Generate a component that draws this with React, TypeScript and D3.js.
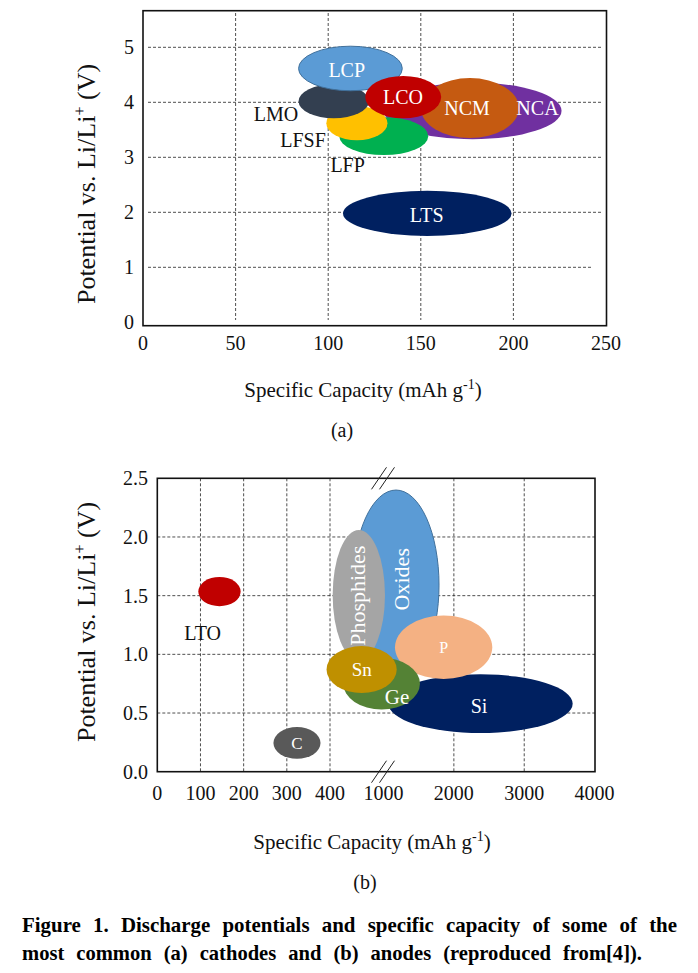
import React from "react";
import * as d3 from "d3";

// ---------- Data: (a) cathodes ----------
const cathodeNames = ["NCA", "NCM", "LFP", "LFSF", "LMO", "LCP", "LCO", "LTS"];
const cathodeCapMin = [130, 150, 106, 99, 84, 84, 120, 108];
const cathodeCapMax = [226, 203, 154, 132, 122, 140, 161, 199];
const cathodeVMin = [3.33, 3.35, 3.04, 3.31, 3.71, 4.21, 3.71, 1.57];
const cathodeVMax = [4.36, 4.44, 3.73, 3.93, 4.33, 5.02, 4.48, 2.39];
const cathodeColors = ["#7030A0", "#C55A11", "#00B050", "#FFC000", "#333F50", "#5B9BD5", "#C00000", "#002060"];
const cathodeLabelX = [213, 175, 110.5, 86.4, 71.8, 110, 140.4, 153.2];
const cathodeLabelV = [3.9, 3.9, 2.86, 3.31, 3.79, 4.59, 4.1, 1.95];
const cathodeLabelInside = [true, true, false, false, false, true, true, true];
const cathodeXTicks = [0, 50, 100, 150, 200, 250];
const cathodeXGrid = [50, 100, 150, 200];
const cathodeYTicks = [0, 1, 2, 3, 4, 5];
const cathodeYGrid = [1, 2, 3, 4, 5];

// ---------- Data: (b) anodes ----------
const anodeNames = ["Oxides", "Phosphides", "Si", "P", "Ge", "Sn", "LTO", "C"];
const anodeCapMin = [658, 430, 1068, 1163, 549, 392, 95, 269];
const anodeCapMax = [1789, 1021, 3688, 2546, 1518, 1188, 193, 378];
const anodeVMin = [0.78, 0.95, 0.33, 0.79, 0.53, 0.67, 1.41, 0.11];
const anodeVMax = [2.4, 2.06, 0.83, 1.33, 0.97, 1.07, 1.66, 0.38];
const anodeColors = ["#5B9BD5", "#A5A5A5", "#002060", "#F4B183", "#548235", "#BF9000", "#C00000", "#595959"];
const anodeLabelX = [1259, 703, 2357, 1855, 1192, 756, 105, 323.5];
const anodeLabelV = [1.64, 1.5, 0.56, 1.06, 0.64, 0.87, 1.18, 0.245];
const anodeLabelInside = [true, true, true, true, true, true, false, true];
const anodeLabelRotated = [true, true, false, false, false, false, false, false];
const anodeLabelSize = [22, 22, 20, 16, 21, 19, 20, 17];
const anodeXTicks = [0, 100, 200, 300, 400, 1000, 2000, 3000, 4000];
const anodeXGrid = [100, 200, 300, 400, 2000, 3000];
const anodeYTicks = [0, 0.5, 1.0, 1.5, 2.0, 2.5];
const anodeYGrid = [0.5, 1.0, 1.5, 2.0];

const FONT = "'Liberation Serif', 'Times New Roman', Times, serif";

export default function App() {
  // scales (a)
  const ax = d3.scaleLinear().domain([0, 250]).range([143, 606]);
  const ay = d3.scaleLinear().domain([0, 5]).range([322.3, 47.3]);
  const aBox = { l: 143, r: 606.5, t: 10.7, b: 325.7 };

  // scales (b) with axis break between 400 and 1000
  const bx = d3.scaleLinear().domain([0, 400, 1000, 4000]).range([157.3, 330, 383.5, 594.6]);
  const by = d3.scaleLinear().domain([0, 2.5]).range([771.7, 478.3]);
  const bBox = { l: 157.3, r: 595, t: 478.3, b: 771.7 };

  const gridStyle = { stroke: "#222", strokeWidth: 0.8, strokeDasharray: "3,2" };

  const ellipse = (x0: number, x1: number, y0: number, y1: number) => ({
    cx: (x0 + x1) / 2,
    cy: (y0 + y1) / 2,
    rx: Math.abs(x1 - x0) / 2,
    ry: Math.abs(y1 - y0) / 2,
  });

  const breakX = bx(1000);
  const breakMarks = [bBox.t, bBox.b].flatMap((yl) => [
    { x1: breakX - 12, y1: yl + 11, x2: breakX + 3, y2: yl - 11 },
    { x1: breakX - 4, y1: yl + 11, x2: breakX + 11, y2: yl - 11 },
  ]);

  const yTitle = (cx: number, cy: number) => (
    <text transform={`translate(${cx},${cy}) rotate(-90)`} textAnchor="middle" fontSize={26} fill="#111">
      Potential vs. Li/Li<tspan dy={-10} fontSize={16}>+</tspan><tspan dy={10}> (V)</tspan>
    </text>
  );

  return (
    <svg width={698} height={973} style={{ position: "absolute", left: 0, top: 0, background: "#fff", fontFamily: FONT }} fontFamily={FONT}>
      <rect x={0} y={0} width={698} height={973} fill="#fff" />

      {/* ===== Chart (a) ===== */}
      <g>
        {cathodeXGrid.map((v) => (
          <line key={"axg" + v} x1={ax(v)} x2={ax(v)} y1={13} y2={320} {...gridStyle} />
        ))}
        {cathodeYGrid.map((v) => (
          <line key={"ayg" + v} x1={148} x2={v === 1 ? 593 : 603} y1={ay(v)} y2={ay(v)} {...gridStyle} />
        ))}
        {cathodeNames.map((n, i) => {
          const e = ellipse(ax(cathodeCapMin[i]), ax(cathodeCapMax[i]), ay(cathodeVMin[i]), ay(cathodeVMax[i]));
          return (
            <ellipse key={"ae" + n} {...e} fill={cathodeColors[i]}
              stroke={n === "LCP" ? "#41719C" : "none"} strokeWidth={1} />
          );
        })}
        {cathodeNames.map((n, i) => (
          <text key={"al" + n} x={ax(cathodeLabelX[i])} y={ay(cathodeLabelV[i])} dy="0.35em"
            textAnchor="middle" fontSize={20} fill={cathodeLabelInside[i] ? "#fff" : "#111"}>
            {n}
          </text>
        ))}
        <rect x={aBox.l} y={aBox.t} width={aBox.r - aBox.l} height={aBox.b - aBox.t}
          fill="none" stroke="#111" strokeWidth={1.6} />
        {cathodeXTicks.map((v) => (
          <text key={"axt" + v} x={ax(v)} y={350} textAnchor="middle" fontSize={20} fill="#111">{v}</text>
        ))}
        {cathodeYTicks.map((v) => (
          <text key={"ayt" + v} x={134} y={ay(v)} dy="0.35em" textAnchor="end" fontSize={20} fill="#111">{v}</text>
        ))}
        {yTitle(95, 184)}
        <text x={363} y={397} textAnchor="middle" fontSize={21} fill="#111">
          Specific Capacity (mAh g<tspan dy={-8} fontSize={14}>-1</tspan><tspan dy={8}>)</tspan>
        </text>
        <text x={342} y={437} textAnchor="middle" fontSize={20} fill="#111">(a)</text>
      </g>

      {/* ===== Chart (b) ===== */}
      <g>
        {anodeXGrid.map((v) => (
          <line key={"bxg" + v} x1={bx(v)} x2={bx(v)} y1={bBox.t} y2={bBox.b} {...gridStyle} />
        ))}
        {anodeYGrid.map((v) => (
          <line key={"byg" + v} x1={bBox.l} x2={bBox.r} y1={by(v)} y2={by(v)} {...gridStyle} />
        ))}
        {anodeNames.map((n, i) => {
          const e = ellipse(bx(anodeCapMin[i]), bx(anodeCapMax[i]), by(anodeVMin[i]), by(anodeVMax[i]));
          return (
            <ellipse key={"be" + n} {...e} fill={anodeColors[i]}
              stroke={n === "Oxides" ? "#41719C" : "none"} strokeWidth={1} />
          );
        })}
        {anodeNames.map((n, i) => {
          const x = bx(anodeLabelX[i]);
          const y = by(anodeLabelV[i]);
          return (
            <text key={"bl" + n} transform={`translate(${x},${y})${anodeLabelRotated[i] ? " rotate(-90)" : ""}`}
              dy="0.35em" textAnchor="middle" fontSize={anodeLabelSize[i]}
              fill={anodeLabelInside[i] ? "#fff" : "#111"}>
              {n}
            </text>
          );
        })}
        <rect x={bBox.l} y={bBox.t} width={bBox.r - bBox.l} height={bBox.b - bBox.t}
          fill="none" stroke="#111" strokeWidth={1.6} />
        {breakMarks.map((m, i) => (
          <line key={"bm" + i} {...m} stroke="#222" strokeWidth={1} />
        ))}
        {anodeXTicks.map((v) => (
          <text key={"bxt" + v} x={bx(v)} y={800} textAnchor="middle" fontSize={20} fill="#111">{v}</text>
        ))}
        {anodeYTicks.map((v) => (
          <text key={"byt" + v} x={148} y={by(v)} dy="0.35em" textAnchor="end" fontSize={20} fill="#111">
            {v.toFixed(1)}
          </text>
        ))}
        {yTitle(95, 622)}
        <text x={372} y={849} textAnchor="middle" fontSize={21} fill="#111">
          Specific Capacity (mAh g<tspan dy={-8} fontSize={14}>-1</tspan><tspan dy={8}>)</tspan>
        </text>
        <text x={365} y={889} textAnchor="middle" fontSize={20} fill="#111">(b)</text>
      </g>

      {/* ===== Caption ===== */}
      <text x={22} y={932} fontSize={21} fontWeight="bold" fill="#000" wordSpacing={7}
        textLength={655} lengthAdjust="spacingAndGlyphs">
        Figure 1. Discharge potentials and specific capacity of some of the
      </text>
      <text x={22} y={960} fontSize={21} fontWeight="bold" fill="#000" wordSpacing={7}
        textLength={620} lengthAdjust="spacingAndGlyphs">
        most common (a) cathodes and (b) anodes (reproduced from[4]).
      </text>
    </svg>
  );
}
